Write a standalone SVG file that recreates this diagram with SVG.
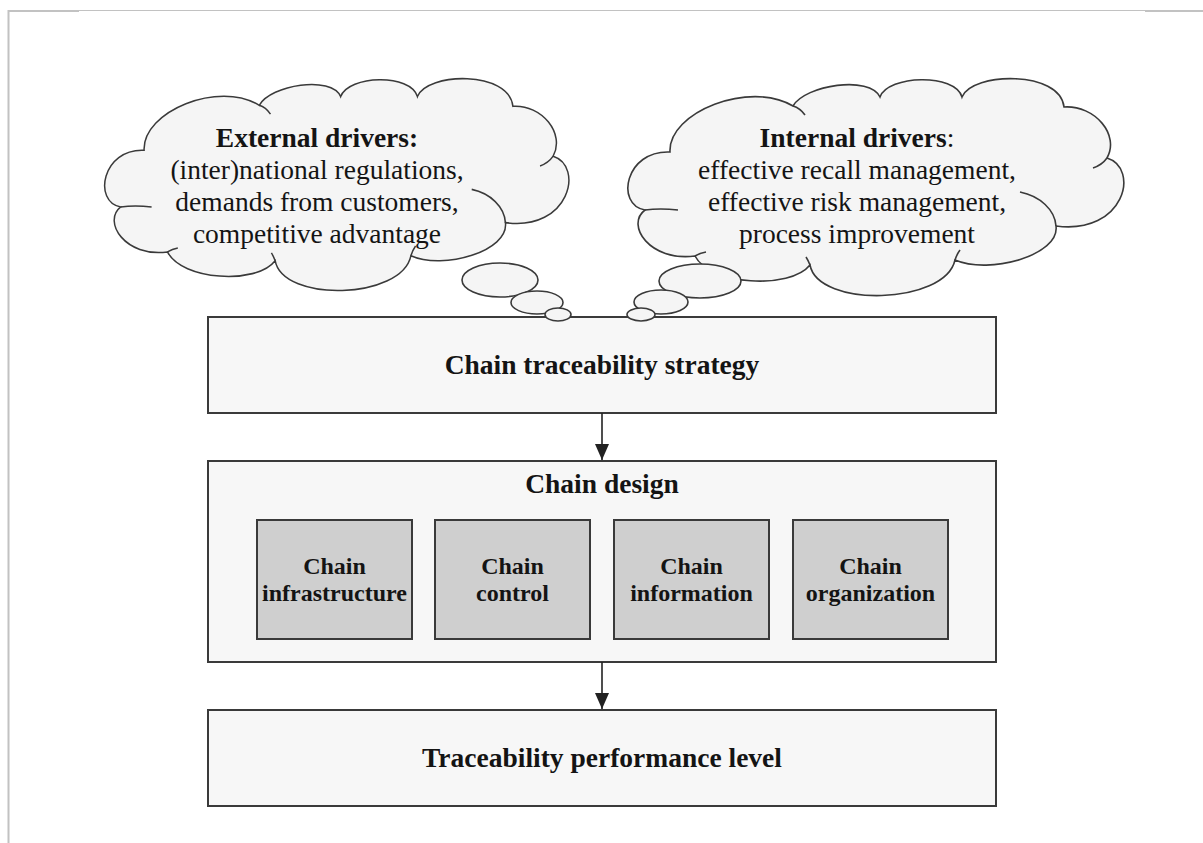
<svg xmlns="http://www.w3.org/2000/svg" xmlns:xlink="http://www.w3.org/1999/xlink" width="1203" height="843" viewBox="0 0 1203 843">
  <style>
    .box { fill: #f7f7f7; stroke: #3a3a3a; stroke-width: 2; }
    .sub { fill: #cfcfcf; stroke: #3a3a3a; stroke-width: 2; }
    .cloud { fill: #f5f5f5; stroke: #3a3a3a; stroke-width: 1.6; vector-effect: non-scaling-stroke; }
    .crease { fill: none; stroke: #3a3a3a; stroke-width: 1.6; vector-effect: non-scaling-stroke; }
    .bubble { fill: #f5f5f5; stroke: #3a3a3a; stroke-width: 1.6; }
    .t { font-family: "Liberation Serif", "Times New Roman", serif; fill: #141414; text-anchor: middle; }
    .big { font-size: 27.5px; font-weight: bold; }
    .cl { font-size: 27.5px; }
    .sm { font-size: 24px; font-weight: bold; }
    .conn { stroke: #222; stroke-width: 1.6; fill: none; }
    .frame { stroke: #c2c2c2; fill: none; }
  </style>
  <defs>
    <marker id="head" markerUnits="userSpaceOnUse" markerWidth="16" markerHeight="14" refX="16" refY="7" orient="auto">
      <path d="M0,0 L16,7 L0,14 Z" fill="#222"/>
    </marker>
    <!-- cloud outline, eleven lobes -->
    <path id="cloudShape" d="M670,152 C668,112 750,80 793,106 C805,85 870,75 880,97 C888,75 955,73 962,97 C972,72 1060,70 1064,107 C1095,105 1120,135 1107,158 C1140,168 1125,235 1056,226 C1060,255 990,275 955,260 C945,305 818,308 810,265 C790,290 710,285 695,256 C650,262 625,225 645,210 C615,205 625,150 670,152 Z"/>
    <!-- inner folds between lobes -->
    <path id="cloudFolds" d="M793,106 Q800,108 805,115 M1107,158 Q1102,165 1093,168 M1056,226 C1055,210 1040,196 1020,192 M955,260 Q957,254 960,250 M810,265 Q808,260 806,257 M695,256 Q700,253 706,252 M645,210 Q660,208 678,210"/>
  </defs>

  <!-- page frame -->
  <g id="frame">
    <line class="frame" x1="8" y1="10.5" x2="1203" y2="10.5" stroke-width="1.2"/>
    <rect x="8" y="10" width="71" height="2" fill="#c2c2c2"/>
    <rect x="1145" y="10" width="58" height="2" fill="#c2c2c2"/>
    <line class="frame" x1="8.5" y1="10" x2="8.5" y2="843" stroke-width="2"/>
  </g>

  <!-- external drivers cloud -->
  <g id="external-drivers">
    <g transform="matrix(0.936,0,0,0.977,-483,1.8)">
      <use xlink:href="#cloudShape" class="cloud"/>
      <use xlink:href="#cloudFolds" class="crease"/>
    </g>
    <text class="t big" x="317" y="147">External drivers:</text>
    <text class="t cl" x="317" y="179">(inter)national regulations,</text>
    <text class="t cl" x="317" y="211">demands from customers,</text>
    <text class="t cl" x="317" y="243">competitive advantage</text>
  </g>

  <!-- internal drivers cloud -->
  <g id="internal-drivers">
    <use xlink:href="#cloudShape" class="cloud"/>
    <use xlink:href="#cloudFolds" class="crease"/>
    <text class="t cl" x="857" y="147"><tspan font-weight="bold">Internal drivers</tspan>:</text>
    <text class="t cl" x="857" y="179">effective recall management,</text>
    <text class="t cl" x="857" y="211">effective risk management,</text>
    <text class="t cl" x="857" y="243">process improvement</text>
  </g>

  <!-- strategy -->
  <g id="strategy">
    <rect class="box" x="208" y="317" width="788" height="96"/>
    <text class="t big" x="602" y="374">Chain traceability strategy</text>
  </g>

  <!-- thought bubbles trailing from the clouds -->
  <g id="external-bubbles">
    <ellipse class="bubble" cx="500" cy="280" rx="38" ry="17"/>
    <ellipse class="bubble" cx="537" cy="302.5" rx="26" ry="11.5"/>
    <ellipse class="bubble" cx="558" cy="314.5" rx="13" ry="6.5"/>
  </g>
  <g id="internal-bubbles">
    <ellipse class="bubble" cx="700" cy="281" rx="41" ry="17"/>
    <ellipse class="bubble" cx="661" cy="302" rx="27" ry="12"/>
    <ellipse class="bubble" cx="641" cy="314.5" rx="14" ry="6.5"/>
  </g>

  <!-- chain design -->
  <g id="chain-design">
    <rect class="box" x="208" y="461" width="788" height="201"/>
    <text class="t big" x="602" y="493">Chain design</text>
  </g>
  <g id="chain-infrastructure">
    <rect class="sub" x="257" y="520" width="155" height="119"/>
    <text class="t sm" x="334.5" y="574">Chain</text>
    <text class="t sm" x="334.5" y="601">infrastructure</text>
  </g>
  <g id="chain-control">
    <rect class="sub" x="435" y="520" width="155" height="119"/>
    <text class="t sm" x="512.5" y="574">Chain</text>
    <text class="t sm" x="512.5" y="601">control</text>
  </g>
  <g id="chain-information">
    <rect class="sub" x="614" y="520" width="155" height="119"/>
    <text class="t sm" x="691.5" y="574">Chain</text>
    <text class="t sm" x="691.5" y="601">information</text>
  </g>
  <g id="chain-organization">
    <rect class="sub" x="793" y="520" width="155" height="119"/>
    <text class="t sm" x="870.5" y="574">Chain</text>
    <text class="t sm" x="870.5" y="601">organization</text>
  </g>

  <!-- performance -->
  <g id="performance">
    <rect class="box" x="208" y="710" width="788" height="96"/>
    <text class="t big" x="602" y="767">Traceability performance level</text>
  </g>

  <!-- connectors -->
  <g id="connectors">
    <line class="conn" x1="602" y1="413" x2="602" y2="460" marker-end="url(#head)"/>
    <line class="conn" x1="602" y1="662" x2="602" y2="709" marker-end="url(#head)"/>
  </g>
</svg>
